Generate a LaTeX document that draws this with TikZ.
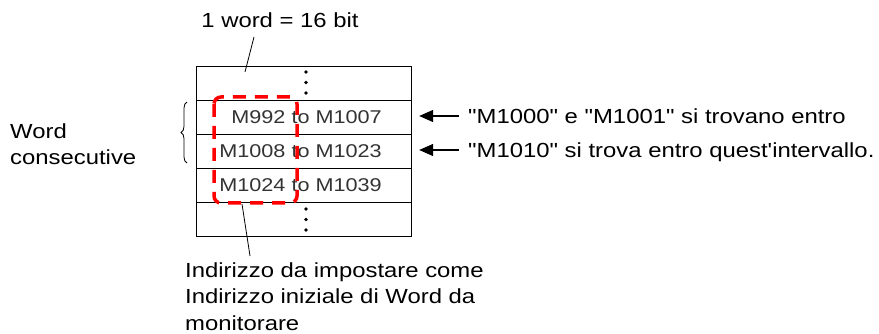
\documentclass[tikz,border=0pt]{standalone}
\usepackage{fontspec}
% plain family: straight quotes stay straight
\newfontfamily\arialx{Liberation Sans}[FakeStretch=1.17]
\usetikzlibrary{arrows.meta,decorations.pathreplacing}
\begin{document}
\begin{tikzpicture}[x=1pt,y=-1pt,
  lbl/.style={font=\arialx\fontsize{20.4}{26.5}\selectfont, inner sep=0pt},
  cell/.style={draw, line width=1.2pt, minimum width=215pt, minimum height=34pt,
               inner sep=0pt, anchor=north west},
  celltext/.style={font=\arialx\fontsize{18.5}{22}\selectfont, text=black!80,
                   inner sep=0pt, anchor=base east},
  lead/.style={line width=0.8pt},
  ptr/.style={line width=1.3pt, -{Triangle[length=14pt,width=12pt]}},
  sel/.style={draw=red, line width=3.5pt, dash pattern=on 13pt off 9pt,
              rounded corners=7pt},
  vdot/.style={circle, fill, inner sep=0pt, minimum size=3.6pt}]
\useasboundingbox (0,0) rectangle (879,334);

% memory table, one row per word
\node[cell] (row0) at (196,66)  {};
\node[cell] (row1) at (196,100) {};
\node[cell] (row2) at (196,134) {};
\node[cell] (row3) at (196,168) {};
\node[cell] (row4) at (196,202) {};

\node[celltext] (r1txt) at (382,124) {M992 to M1007};
\node[celltext] (r2txt) at (382,158) {M1008 to M1023};
\node[celltext] (r3txt) at (382,192) {M1024 to M1039};

% continuation dots above and below
\node[vdot] (d1) at (306,72)  {};
\node[vdot] (d2) at (306,82.5) {};
\node[vdot] (d3) at (306,93)  {};
\node[vdot] (d4) at (306,209) {};
\node[vdot] (d5) at (306,219.5) {};
\node[vdot] (d6) at (306,230) {};

% monitored range
\draw[sel] (214,97) rectangle (297,203);

% word width label
\node[lbl, anchor=base] (wlabel) at (280,28) {1 word = 16 bit};
\coordinate (wtail) at (254,37);
\coordinate (wtip) at (245,72);
\draw[lead] (wtail) -- (wtip);

% consecutive words
\node[lbl, anchor=base west, align=left] (cons) at (10,165)
  {Word\\consecutive};
\draw[line width=0.8pt, decorate, decoration={brace, amplitude=6pt}]
  (187,163) -- (187,102);

% notes on the right
\node[lbl, anchor=base west] (n1) at (468,124)
  {"M1000" e "M1001" si trovano entro};
\node[lbl, anchor=base west] (n2) at (468,158)
  {"M1010" si trova entro quest'intervallo.};
\coordinate (a1) at (459,116);
\coordinate (a2) at (459,150);
\draw[ptr, shorten >=7pt] (a1) -- (a1 -| row1.east);
\draw[ptr, shorten >=7pt] (a2) -- (a2 -| row2.east);

% start address note
\node[lbl, anchor=base west, align=left] (start) at (185,330)
  {Indirizzo da impostare come\\Indirizzo iniziale di Word da\\monitorare};
\coordinate (stip) at (242,204);
\coordinate (stail) at (250,256);
\draw[lead] (stip) -- (stail);
\end{tikzpicture}
\end{document}
